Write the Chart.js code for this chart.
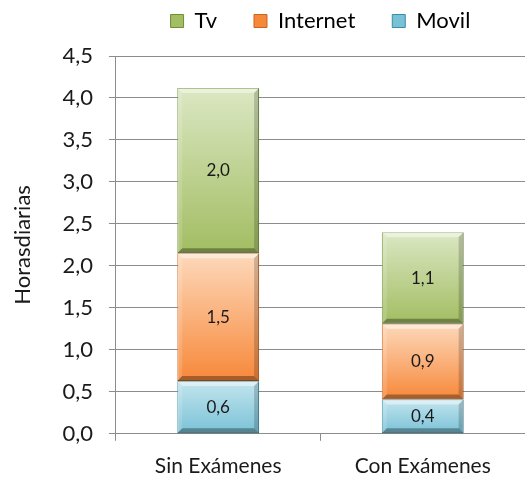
<!DOCTYPE html>
<html>
<head>
<meta charset="utf-8">
<script src="https://cdn.jsdelivr.net/npm/chart.js@4.4.1/dist/chart.umd.min.js"></script>
<style>
html,body{margin:0;padding:0;background:#fff;}
#wrap{width:525px;height:479px;}
</style>
</head>
<body>
<div id="wrap"><canvas id="c" width="525" height="479"></canvas></div>
<script>
const categories = ["Sin Exámenes", "Con Exámenes"];
const movil = [0.63, 0.41];
const internet = [1.52, 0.90];
const tv = [1.97, 1.09];
const yTicks = [0, 0.5, 1.0, 1.5, 2.0, 2.5, 3.0, 3.5, 4.0, 4.5];
const yTitle = "Horasdiarias";

const palette = {
  Movil: {top: "#c3e5ee", bottom: "#79c1d6", edge: "#3a8ea6"},
  Internet: {top: "#fdd9bb", bottom: "#f7883a", edge: "#c8661f"},
  Tv: {top: "#dbe7c3", bottom: "#a2bd62", edge: "#6f8e36"}
};

const FONT = "Lato, 'Open Sans', sans-serif";

function fmt(v){ return v.toFixed(1).replace('.', ','); }

function gradFor(name){
  return function(ctx){
    const chart = ctx.chart;
    const p = palette[name];
    const ys = chart.scales && chart.scales.y;
    if (!ys || !chart.chartArea || ctx.type !== 'data') return p.bottom;
    const dsIndex = ctx.datasetIndex, i = ctx.dataIndex;
    let base = 0;
    for (let d = 0; d < dsIndex; d++) base += chart.data.datasets[d].data[i];
    const val = chart.data.datasets[dsIndex].data[i];
    const yTop = ys.getPixelForValue(base + val);
    const yBot = ys.getPixelForValue(base);
    const g = chart.ctx.createLinearGradient(0, yTop, 0, yBot);
    g.addColorStop(0, p.top);
    g.addColorStop(1, p.bottom);
    return g;
  };
}

const bevelPlugin = {
  id: 'bevel',
  afterDatasetsDraw(chart){
    const c = chart.ctx;
    chart.data.datasets.forEach((ds, di) => {
      const meta = chart.getDatasetMeta(di);
      meta.data.forEach((el) => {
        const {x, y, base, width} = el.getProps(['x','y','base','width'], true);
        const l = x - width/2, r = x + width/2, t = Math.min(y, base), b = Math.max(y, base);
        const s = 5;
        c.save();
        c.fillStyle = 'rgba(255,255,255,0.45)';
        c.beginPath(); c.moveTo(l,t); c.lineTo(r,t); c.lineTo(r-s,t+s); c.lineTo(l+s,t+s); c.closePath(); c.fill();
        c.fillStyle = 'rgba(255,255,255,0.15)';
        c.beginPath(); c.moveTo(l,t); c.lineTo(l+s,t+s); c.lineTo(l+s,b-s); c.lineTo(l,b); c.closePath(); c.fill();
        c.fillStyle = 'rgba(0,0,0,0.18)';
        c.beginPath(); c.moveTo(r,t); c.lineTo(r,b); c.lineTo(r-s,b-s); c.lineTo(r-s,t+s); c.closePath(); c.fill();
        c.fillStyle = 'rgba(0,0,0,0.32)';
        c.beginPath(); c.moveTo(l,b); c.lineTo(r,b); c.lineTo(r-s,b-s); c.lineTo(l+s,b-s); c.closePath(); c.fill();
        c.restore();
      });
    });
    c.save();
    c.font = "17px " + FONT;
    c.fillStyle = "#1a1a1a";
    c.textAlign = "center";
    c.textBaseline = "middle";
    chart.data.datasets.forEach((ds, di) => {
      const meta = chart.getDatasetMeta(di);
      meta.data.forEach((el, i) => {
        const {x, y, base} = el.getProps(['x','y','base'], true);
        c.fillText(fmt(ds.data[i]), x, (y + base)/2);
      });
    });
    c.restore();
  }
};

const datasets = [
  {label: "Movil", data: movil, backgroundColor: gradFor("Movil"), borderColor: palette.Movil.edge, borderWidth: 1, borderSkipped: false},
  {label: "Internet", data: internet, backgroundColor: gradFor("Internet"), borderColor: palette.Internet.edge, borderWidth: 1, borderSkipped: false},
  {label: "Tv", data: tv, backgroundColor: gradFor("Tv"), borderColor: palette.Tv.edge, borderWidth: 1, borderSkipped: false}
];

new Chart(document.getElementById('c'), {
  type: 'bar',
  data: {labels: categories, datasets: datasets},
  plugins: [bevelPlugin],
  options: {
    responsive: false,
    animation: false,
    devicePixelRatio: 1,
    layout: {padding: {left: 8, right: 0, top: -27, bottom: -13}},
    datasets: {bar: {categoryPercentage: 1.0, barPercentage: 0.40}},
    plugins: {
      tooltip: {enabled: false},
      subtitle: {display: true, text: '', weight: 500, fullSize: false, padding: {top: 0, bottom: 2}, font: {size: 10}},
      legend: {
        position: 'top',
        fullSize: false,
        reverse: true,
        labels: {
          font: {family: FONT, size: 22},
          color: "#1a1a1a",
          boxWidth: 13,
          boxHeight: 13,
          padding: 37,
          generateLabels(chart){
            return chart.data.datasets.map((ds, i) => ({
              text: ds.label,
              fillStyle: palette[ds.label].bottom,
              strokeStyle: palette[ds.label].edge,
              lineWidth: 1,
              datasetIndex: i,
              hidden: false
            }));
          }
        }
      }
    },
    scales: {
      x: {
        stacked: true,
        grid: {drawOnChartArea: false, drawTicks: true, tickLength: 7, offset: true, color: "#8c8c8c"},
        border: {color: "#8c8c8c"},
        ticks: {font: {family: FONT, size: 21}, color: "#1a1a1a", padding: 13, maxRotation: 0}
      },
      y: {
        stacked: true,
        min: 0, max: 4.5,
        afterBuildTicks(axis){ axis.ticks = yTicks.map(v => ({value: v})); },
        grid: {color: "#8c8c8c", tickLength: 7},
        border: {color: "#8c8c8c"},
        ticks: {font: {family: FONT, size: 22}, color: "#1a1a1a", padding: 16, callback: (v) => fmt(v)},
        title: {display: true, text: yTitle, font: {family: FONT, size: 22}, color: "#1a1a1a", padding: {top: 2, bottom: 10}}
      }
    }
  }
});
</script>
</body>
</html>
